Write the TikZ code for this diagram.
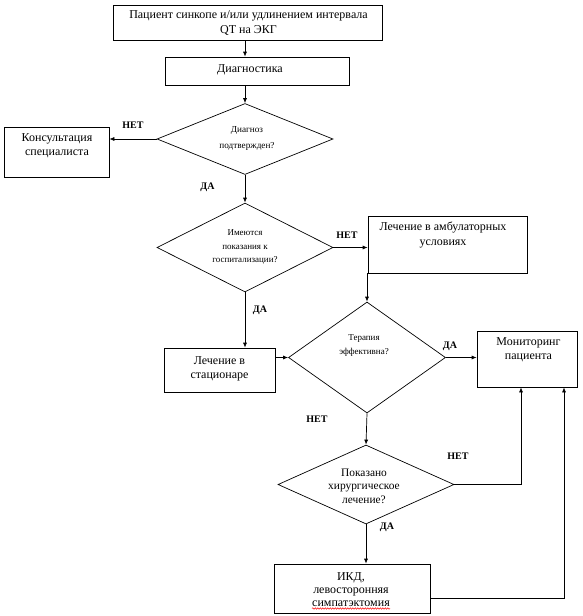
\documentclass[tikz,border=0pt]{standalone}
\usepackage{fontspec}
\setmainfont{Liberation Serif}
\usetikzlibrary{shapes.geometric,arrows.meta,calc,decorations.pathmorphing}
\begin{document}
\begin{tikzpicture}[x=1pt,y=-1pt,
  every path/.style={line width=0.7pt},
  box/.style={draw,rectangle,inner sep=0pt},
  dia/.style={draw,diamond,inner sep=0pt},
  txt/.style={align=center,inner sep=0pt,font=\fontsize{12}{14.5}\selectfont},
  dtxt/.style={align=center,inner sep=0pt,font=\fontsize{9}{13.5}\selectfont},
  lbl/.style={inner sep=0pt,font=\fontsize{10}{12}\selectfont\bfseries},
  arr/.style={-{Latex[length=5pt,width=4pt]}}]
\useasboundingbox (0,0) rectangle (582,616);
% boxes
\node[box,minimum width=269pt,minimum height=35pt] (B1) at (247.5,22.5) {};
\node[txt] (B1t) at (248.5,23) {Пациент синкопе и/или удлинением интервала\\QT на ЭКГ};
\node[box,minimum width=184pt,minimum height=28pt] (B2) at (257,71) {};
\node[txt] (B2t) at (250,70) {Диагностика};
\node[box,minimum width=105pt,minimum height=50pt] (K) at (56.5,152) {};
\node[txt] (Kt) at (57,145.5) {Консультация\\специалиста};
\node[box,minimum width=159pt,minimum height=57pt] (A) at (447.5,244.5) {};
\node[txt] (At) at (443,235) {Лечение в амбулаторных\\условиях};
\node[box,minimum width=111pt,minimum height=44pt] (S) at (219.5,370) {};
\node[txt] (St) at (219.5,369) {Лечение в\\стационаре};
\node[box,minimum width=100pt,minimum height=56pt] (M) at (527,359) {};
\node[txt] (Mt) at (528.5,349.5) {Мониторинг\\пациента};
\node[box,minimum width=156pt,minimum height=49pt] (I) at (352,588.5) {};
\node[txt,font=\fontsize{12}{13}\selectfont] (It) at (351,590) {ИКД,\\левосторонняя\\симпатэктомия};
% diamonds
\node[dia,minimum width=176pt,minimum height=71pt] (D1) at (245,139) {};
\node[dtxt,font=\fontsize{9.2}{16}\selectfont] (D1t) at (247,138) {Диагноз\\подтвержден?};
\node[dia,minimum width=176pt,minimum height=89pt] (D2) at (245,247.5) {};
\node[dtxt] (D2t) at (245,247) {Имеются\\показания к\\госпитализации?};
\node[dia,minimum width=157pt,minimum height=111pt] (D3) at (367,357.5) {};
\node[dtxt] (D3t) at (364,345.5) {Терапия\\эффективна?};
\node[dia,minimum width=176pt,minimum height=79pt] (D4) at (366,484.5) {};
\node[dtxt,font=\fontsize{11.4}{13.5}\selectfont] (D4t) at (364,486) {Показано\\хирургическое\\лечение?};
% connectors
\draw[arr] (D1.north |- B1.south) -- (D1.north |- B2.north);
\draw[arr] (D1.north |- B2.south) -- (D1.north);
\draw[arr] (D1.west) -- (D1.west -| K.east);
\draw[arr] (D1.south) -- (D2.north);
\draw[arr] (D2.east) -- (D2.east -| A.west);
\draw[arr] (D3.north |- A.south) -- (D3.north);
\draw[arr] (D2.south) -- (D2.south |- S.north);
\draw[arr] (D3.west -| S.east) -- (D3.west);
\draw[arr] (D3.east) -- (D3.east -| M.west);
\draw[arr] (D3.south) -- (D4.north);
\draw[arr] (D4.east) -| ([xshift=-6pt]M.south);
\draw[arr] (D4.south) -- (D4.south |- I.north);
\draw[arr] ([yshift=-9.5pt]I.east) -| ([xshift=37pt]M.south);
% labels
\node[lbl] (l1) at (133,125) {НЕТ};
\node[lbl] (l2) at (207.5,187) {ДА};
\node[lbl] (l3) at (347,235) {НЕТ};
\node[lbl] (l4) at (260,310) {ДА};
\node[lbl] (l5) at (450,346) {ДА};
\node[lbl] (l6) at (317,419) {НЕТ};
\node[lbl] (l7) at (458,456) {НЕТ};
\node[lbl] (l8) at (387,527) {ДА};
% spelling underline
\draw[red,line width=0.5pt,decorate,decoration={snake,amplitude=0.7pt,segment length=2.5pt}] (312,608.5) -- (390,608.5);
\end{tikzpicture}
\end{document}
